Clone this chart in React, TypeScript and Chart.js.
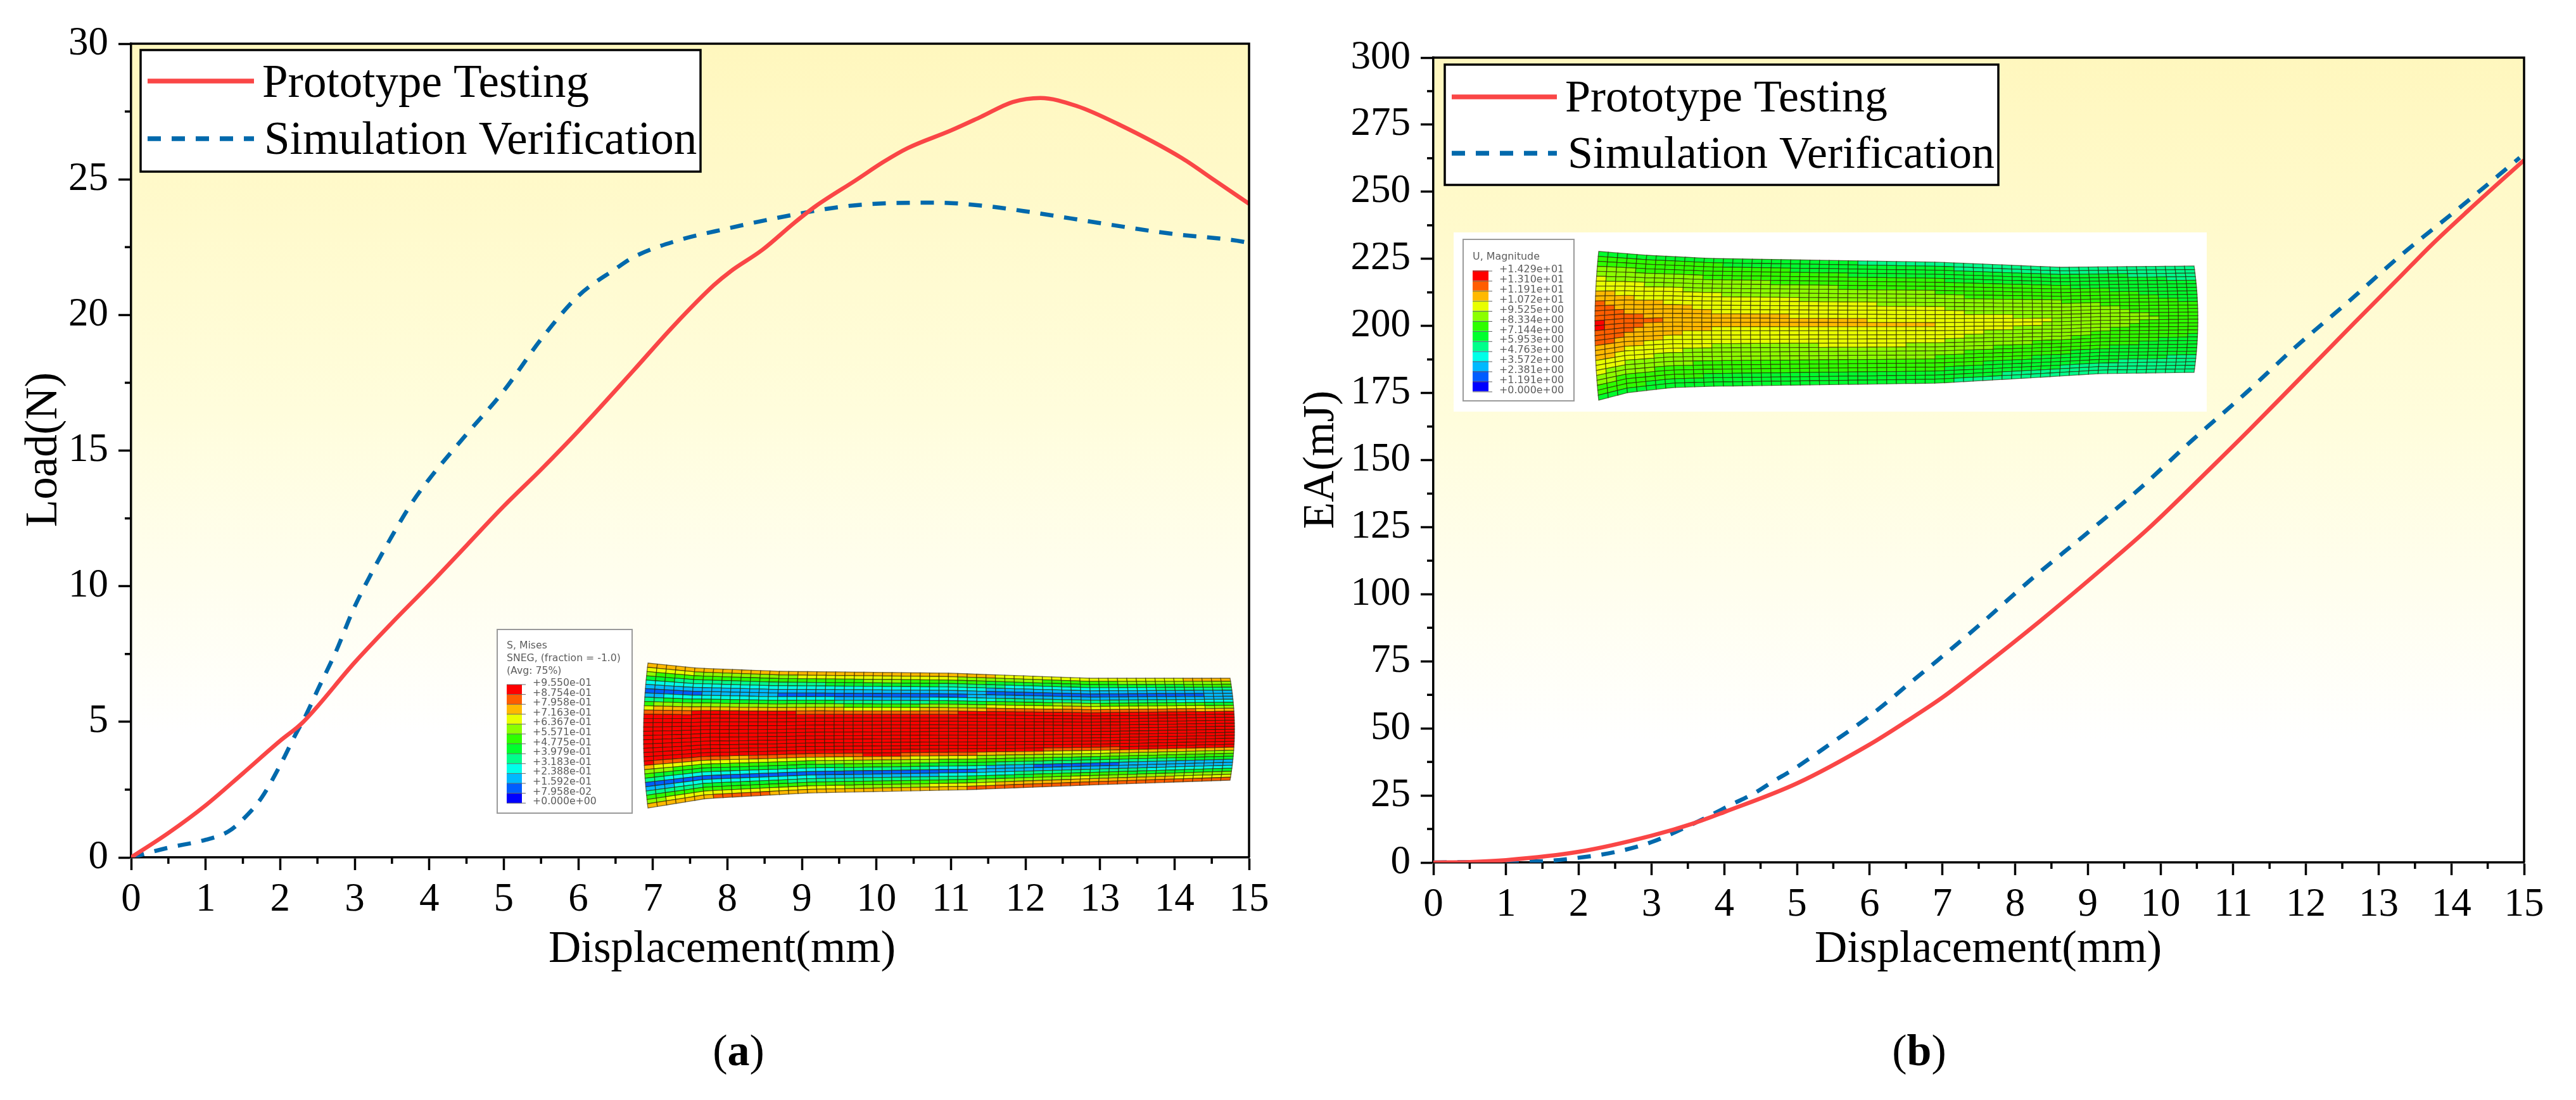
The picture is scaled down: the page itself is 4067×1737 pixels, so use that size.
import React, { useEffect, useRef } from "react";
import Chart from "chart.js/auto";

// displacement (mm) vs load (N)
const testLoadX = [0, 0.5, 1, 1.5, 2, 2.3, 3, 3.5, 4, 4.5, 5, 5.5, 6, 6.74, 7.28, 7.82, 8.04, 8.47, 8.9, 9.18, 9.72, 10.1, 10.42, 11.0, 11.4, 11.83, 12.2, 12.69, 13.24, 14.1, 14.54, 15];
const testLoadY = [0, 0.9, 1.92, 3.1, 4.3, 4.97, 7.19, 8.65, 10.05, 11.5, 12.95, 14.3, 15.72, 17.95, 19.6, 21.1, 21.6, 22.4, 23.4, 24.0, 24.96, 25.65, 26.15, 26.8, 27.3, 27.85, 28.0, 27.7, 27.04, 25.78, 24.96, 24.1];
const simLoadX = [0, 0.5, 1, 1.3, 1.5, 1.75, 2, 2.2, 2.35, 2.5, 2.75, 2.98, 3.2, 3.5, 3.75, 4, 4.5, 5, 5.5, 6, 6.5, 6.74, 7.28, 7.99, 8.9, 9.56, 10.15, 10.8, 11.45, 12.05, 12.97, 13.94, 14.92, 15];
const simLoadY = [0, 0.36, 0.65, 0.95, 1.4, 2.2, 3.4, 4.5, 5.27, 6.16, 7.6, 9.13, 10.35, 11.85, 13.0, 13.95, 15.6, 17.2, 19.1, 20.7, 21.7, 22.13, 22.7, 23.18, 23.7, 24.0, 24.12, 24.14, 24.02, 23.8, 23.4, 23.0, 22.7, 22.65];

// displacement (mm) vs EA (mJ)
const testEaX = [0, 0.5, 1, 2, 3, 3.6, 4, 5, 6, 6.5, 7, 7.5, 8.33, 9.16, 9.83, 10.72, 11.22, 11.83, 12.66, 13.28, 13.72, 14.22, 15];
const testEaY = [0, 0.2, 0.9, 4, 10, 14.8, 18.8, 29.5, 44, 52.5, 61.5, 71.8, 89.7, 108.6, 124.4, 147.8, 161.2, 178, 201, 217.9, 230, 242.7, 261.8];
const simEaX = [0, 1, 1.5, 2, 2.5, 3, 3.53, 3.82, 4.09, 4.4, 4.67, 4.95, 5.2, 5.48, 5.73, 6, 6.25, 6.5, 6.94, 7.5, 8.22, 9, 9.72, 10.44, 11.17, 11.83, 12.6, 13.33, 14.11, 14.94];
const simEaY = [0, 0.3, 0.5, 1.8, 3.9, 7.6, 13.9, 17.7, 21.5, 25.6, 30.2, 34.7, 39.3, 44.6, 49.3, 54.6, 60, 65.7, 75.5, 88.3, 105.5, 123, 139.5, 157.5, 174.9, 191.5, 209.4, 226.9, 244, 262.7];

const dispTicks = [0, 1, 2, 3, 4, 5, 6, 7, 8, 9, 10, 11, 12, 13, 14, 15];
const loadTicks = [0, 5, 10, 15, 20, 25, 30];
const eaTicks = [0, 25, 50, 75, 100, 125, 150, 175, 200, 225, 250, 275, 300];

const seriesNames = ["Prototype Testing", "Simulation Verification"];
const serif = "'Liberation Serif', 'Times New Roman', serif";
const inset = "'DejaVu Sans', sans-serif";
const RED = "#FA4646";
const BLUE = "#0069AC";
const DASH = [21, 17];

const contour = ["#FF0000", "#FF5D00", "#FFB900", "#E8FF00", "#8BFF00", "#2EFF00", "#00FF2E", "#00FF8B", "#00FFE8", "#00B9FF", "#005DFF", "#0000FF"];
const stressTitle = ["S, Mises", "SNEG, (fraction = -1.0)", "(Avg: 75%)"];
const stressScale = ["+9.550e-01", "+8.754e-01", "+7.958e-01", "+7.163e-01", "+6.367e-01", "+5.571e-01", "+4.775e-01", "+3.979e-01", "+3.183e-01", "+2.388e-01", "+1.592e-01", "+7.958e-02", "+0.000e+00"];
const dispTitle = ["U, Magnitude"];
const dispScale = ["+1.429e+01", "+1.310e+01", "+1.191e+01", "+1.072e+01", "+9.525e+00", "+8.334e+00", "+7.144e+00", "+5.953e+00", "+4.763e+00", "+3.572e+00", "+2.381e+00", "+1.191e+00", "+0.000e+00"];

// band index across the tube in (a): [position across, band]
const stressBands = [[0, 1.5], [0.03, 3], [0.07, 5], [0.12, 8], [0.18, 10], [0.22, 8], [0.26, 5], [0.29, 3], [0.32, 1], [0.35, 0], [0.67, 0], [0.7, 2], [0.73, 4], [0.78, 6], [0.83, 10], [0.87, 8], [0.92, 5], [0.97, 2], [1, 1]];

const lerp = (a: number, b: number, t: number) => a + (b - a) * t;

function along(xs: number[], ys: number[], x: number) {
    for (let i = 1; i < xs.length; i++) {
        if (x <= xs[i]) return lerp(ys[i - 1], ys[i], (x - xs[i - 1]) / (xs[i] - xs[i - 1]));
    }
    return ys[ys.length - 1];
}

const stressField = (u: number, v: number) => {
    const p = Math.min(1, Math.max(0, v + 0.012 * Math.sin(u * 11) + 0.03 * (u - 0.5)));
    return along(stressBands.map((b) => b[0]), stressBands.map((b) => b[1]), p);
};

const dispField = (u: number, v: number) => {
    const p = Math.abs(2 * v - 1 + 0.04 * Math.sin(u * 9));
    const centre = along([0, 0.05, 0.14, 0.2, 0.55, 0.62, 0.8, 1], [0, 1, 1.8, 2.2, 2.4, 3, 3.6, 5], u);
    const edge = along([0, 0.3, 0.7, 1], [5.8, 6.3, 7, 7.4], u);
    return lerp(centre, edge, Math.pow(p, 1.2));
};

const panels = [
    {
        offset: 0,
        width: 2040,
        area: { left: 207, right: 1972, top: 69, bottom: 1354 },
        yMax: 30,
        yTicks: loadTicks,
        yTitle: { text: "Load(N)", x: 89, y: 710, size: 71 },
        xTitle: { x: 1140, y: 1519 },
        legend: { box: [222, 79, 1106, 271], line: [233, 401], rows: [128, 219], textX: [414, 417], base: [153, 243], size: 73 },
        caption: { a: "a", x: 1166, y: 1682 },
        series: [
            { xs: testLoadX, ys: testLoadY },
            { xs: simLoadX, ys: simLoadY },
        ],
        picture: {
            sheet: null,
            box: [785, 994, 998, 1284],
            title: stressTitle,
            titleY: [1020, 1040, 1060],
            textX: 800,
            swatch: [800, 824, 1081],
            labelX: 841,
            labelY: 1079,
            scale: stressScale,
            step: 15.6,
            font: 15.7,
            tube: { x0: 1023, x1: 1942, bow: 7, topX: [1023, 1100, 1230, 1500, 1720, 1942], top: [1047, 1055, 1060, 1063, 1071, 1071], botX: [1023, 1115, 1280, 1529, 1736, 1942], bot: [1276, 1261, 1252, 1247, 1239, 1232], cols: 62, rows: 34, field: stressField },
        },
    },
    {
        offset: 2040,
        width: 2027,
        area: { left: 2263, right: 3985, top: 91, bottom: 1362 },
        yMax: 300,
        yTicks: eaTicks,
        yTitle: { text: "EA(mJ)", x: 2105, y: 726, size: 69 },
        xTitle: { x: 3139, y: 1519 },
        legend: { box: [2281, 102, 3155, 292], line: [2292, 2458], rows: [153, 242], textX: [2471, 2475], base: [176, 265], size: 72 },
        caption: { a: "b", x: 3030, y: 1682 },
        series: [
            { xs: testEaX, ys: testEaY },
            { xs: simEaX, ys: simEaY },
        ],
        picture: {
            sheet: [2295, 367, 3484, 650],
            box: [2310, 378, 2485, 633],
            title: dispTitle,
            titleY: [406],
            textX: 2325,
            swatch: [2325, 2350, 427],
            labelX: 2367,
            labelY: 426,
            scale: dispScale,
            step: 15.9,
            font: 15.9,
            tube: { x0: 2524, x1: 3464, bow: 6, topX: [2524, 2600, 2700, 3060, 3251, 3464], top: [397, 403, 408, 414, 422, 420], botX: [2524, 2570, 2640, 2700, 3060, 3200, 3315, 3464], bot: [632, 620, 612, 610, 605, 597, 590, 588], cols: 62, rows: 30, field: dispField },
        },
    },
];

function drawTube(ctx: CanvasRenderingContext2D, t: any) {
    const pt = (i: number, j: number) => {
        const u = i / t.cols;
        const v = j / t.rows;
        const base = lerp(t.x0, t.x1, u);
        const top = along(t.topX, t.top, base);
        const bot = along(t.botX, t.bot, base);
        const bulge = 1 - (2 * v - 1) * (2 * v - 1);
        return [base + (2 * u - 1) * t.bow * bulge, lerp(top, bot, v)];
    };
    const cell = (i: number, j: number) => {
        const a = pt(i, j);
        const b = pt(i + 1, j);
        const c = pt(i + 1, j + 1);
        const d = pt(i, j + 1);
        ctx.beginPath();
        ctx.moveTo(a[0], a[1]);
        ctx.lineTo(b[0], b[1]);
        ctx.lineTo(c[0], c[1]);
        ctx.lineTo(d[0], d[1]);
        ctx.closePath();
    };
    for (let i = 0; i < t.cols; i++) {
        for (let j = 0; j < t.rows; j++) {
            const band = Math.round(t.field((i + 0.5) / t.cols, (j + 0.5) / t.rows));
            ctx.fillStyle = contour[Math.min(11, Math.max(0, band))];
            cell(i, j);
            ctx.fill();
            ctx.strokeStyle = "rgba(40,30,0,0.62)";
            ctx.lineWidth = 1.3;
            ctx.stroke();
        }
    }
}

function drawPicture(ctx: CanvasRenderingContext2D, p: any) {
    if (p.sheet) {
        ctx.fillStyle = "#fff";
        ctx.fillRect(p.sheet[0], p.sheet[1], p.sheet[2] - p.sheet[0], p.sheet[3] - p.sheet[1]);
    }
    ctx.fillStyle = "#fff";
    ctx.strokeStyle = "#9a9a9a";
    ctx.lineWidth = 2;
    ctx.fillRect(p.box[0], p.box[1], p.box[2] - p.box[0], p.box[3] - p.box[1]);
    ctx.strokeRect(p.box[0], p.box[1], p.box[2] - p.box[0], p.box[3] - p.box[1]);

    ctx.font = `${p.font}px ${inset}`;
    ctx.textAlign = "left";
    ctx.textBaseline = "middle";
    ctx.fillStyle = "#5c5c5c";
    p.title.forEach((s: string, i: number) => ctx.fillText(s, p.textX, p.titleY[i]));
    contour.forEach((c, i) => {
        ctx.fillStyle = c;
        ctx.fillRect(p.swatch[0], p.swatch[2] + i * p.step, p.swatch[1] - p.swatch[0], p.step);
    });
    ctx.strokeStyle = "#666";
    ctx.lineWidth = 1;
    p.scale.forEach((s: string, i: number) => {
        const y = p.labelY + i * p.step + 2;
        ctx.beginPath();
        ctx.moveTo(p.swatch[0], y);
        ctx.lineTo(p.swatch[1] + 6, y);
        ctx.stroke();
        ctx.fillStyle = "#5c5c5c";
        ctx.fillText(s, p.labelX, p.labelY + i * p.step);
    });
    drawTube(ctx, p.tube);
}

function drawLegend(ctx: CanvasRenderingContext2D, l: any) {
    const [x0, y0, x1, y1] = l.box;
    ctx.fillStyle = "#fff";
    ctx.fillRect(x0, y0, x1 - x0, y1 - y0);
    ctx.strokeStyle = "#000";
    ctx.lineWidth = 3.5;
    ctx.strokeRect(x0, y0, x1 - x0, y1 - y0);
    seriesNames.forEach((name, i) => {
        ctx.beginPath();
        ctx.strokeStyle = i === 0 ? RED : BLUE;
        ctx.lineWidth = 7.5;
        ctx.setLineDash(i === 0 ? [] : DASH);
        ctx.moveTo(l.line[0], l.rows[i]);
        ctx.lineTo(l.line[1], l.rows[i]);
        ctx.stroke();
        ctx.setLineDash([]);
        ctx.font = `${l.size}px ${serif}`;
        ctx.fillStyle = "#000";
        ctx.textAlign = "left";
        ctx.textBaseline = "alphabetic";
        ctx.fillText(name, l.textX[i], l.base[i]);
    });
}

function figurePlugin(cfg: any) {
    return {
        id: "figure",
        beforeDraw(chart: any) {
            const { ctx, chartArea: a } = chart;
            const g = ctx.createLinearGradient(0, a.top, 0, a.bottom);
            g.addColorStop(0, "#FFF7BE");
            g.addColorStop(0.45, "#FFFDDC");
            g.addColorStop(0.85, "#FFFFFF");
            g.addColorStop(1, "#FFFFFF");
            ctx.save();
            ctx.fillStyle = g;
            ctx.fillRect(a.left, a.top, a.right - a.left, a.bottom - a.top);
            ctx.restore();
        },
        beforeDatasetsDraw(chart: any) {
            const { ctx } = chart;
            ctx.save();
            ctx.translate(-cfg.offset, 0);
            drawPicture(ctx, cfg.picture);
            ctx.restore();
        },
        afterDatasetsDraw(chart: any) {
            const { ctx, chartArea: a, scales } = chart;
            ctx.save();
            // frame, top and right side
            ctx.strokeStyle = "#000";
            ctx.lineWidth = 3.5;
            ctx.beginPath();
            ctx.moveTo(a.left, a.top);
            ctx.lineTo(a.right, a.top);
            ctx.lineTo(a.right, a.bottom);
            ctx.stroke();
            // minor ticks half way between the labelled ones
            ctx.lineWidth = 3.5;
            for (let i = 1; i < dispTicks.length; i++) {
                const x = scales.x.getPixelForValue((dispTicks[i - 1] + dispTicks[i]) / 2);
                ctx.beginPath();
                ctx.moveTo(x, a.bottom);
                ctx.lineTo(x, a.bottom + 10);
                ctx.stroke();
            }
            for (let i = 1; i < cfg.yTicks.length; i++) {
                const y = scales.y.getPixelForValue((cfg.yTicks[i - 1] + cfg.yTicks[i]) / 2);
                ctx.beginPath();
                ctx.moveTo(a.left, y);
                ctx.lineTo(a.left - 10, y);
                ctx.stroke();
            }
            ctx.translate(-cfg.offset, 0);
            drawLegend(ctx, cfg.legend);

            // axis titles sit off centre in the figure, so they are placed by hand
            ctx.fillStyle = "#000";
            ctx.textAlign = "center";
            ctx.textBaseline = "alphabetic";
            ctx.font = `71px ${serif}`;
            ctx.fillText("Displacement(mm)", cfg.xTitle.x, cfg.xTitle.y);
            ctx.save();
            ctx.translate(cfg.yTitle.x, cfg.yTitle.y);
            ctx.rotate(-Math.PI / 2);
            ctx.font = `${cfg.yTitle.size}px ${serif}`;
            ctx.fillText(cfg.yTitle.text, 0, 0);
            ctx.restore();

            // caption: bold letter between plain brackets
            ctx.textAlign = "left";
            ctx.font = `70px ${serif}`;
            const open = ctx.measureText("(").width;
            ctx.font = `bold 70px ${serif}`;
            const mid = ctx.measureText(cfg.caption.a).width;
            const x = cfg.caption.x - (open * 2 + mid) / 2;
            ctx.font = `70px ${serif}`;
            ctx.fillText("(", x, cfg.caption.y);
            ctx.fillText(")", x + open + mid, cfg.caption.y);
            ctx.font = `bold 70px ${serif}`;
            ctx.fillText(cfg.caption.a, x + open, cfg.caption.y);
            ctx.restore();
        },
    };
}

const Panel: React.FC<{ cfg: any }> = ({ cfg }) => {
    const chartRef = useRef<HTMLCanvasElement | null>(null);

    useEffect(() => {
        if (!chartRef.current) return;
        const { area, offset } = cfg;

        const axis = {
            border: { display: true, color: "#000", width: 3.5 },
            grid: { display: true, drawOnChartArea: false, drawTicks: true, tickLength: 20, tickWidth: 3.5, tickColor: "#000" },
        };

        const chart = new Chart(chartRef.current, {
            type: "line",
            data: {
                datasets: cfg.series.map((s: any, i: number) => ({
                    label: seriesNames[i],
                    data: s.xs.map((x: number, k: number) => ({ x, y: s.ys[k] })),
                    borderColor: i === 0 ? RED : BLUE,
                    borderWidth: 6.5,
                    borderDash: i === 0 ? [] : DASH,
                    pointRadius: 0,
                    fill: false,
                    cubicInterpolationMode: "monotone",
                })),
            },
            options: {
                animation: false,
                responsive: false,
                devicePixelRatio: 1,
                layout: {
                    autoPadding: false,
                    padding: { left: 0, top: area.top, right: cfg.width - (area.right - offset), bottom: 0 },
                },
                plugins: { legend: { display: false }, title: { display: false }, tooltip: { enabled: false } },
                scales: {
                    x: {
                        ...axis,
                        type: "linear",
                        min: 0,
                        max: 15,
                        afterBuildTicks: (s: any) => {
                            s.ticks = dispTicks.map((value) => ({ value }));
                        },
                        afterFit: (s: any) => {
                            s.height = 1737 - area.bottom;
                        },
                        ticks: {
                            autoSkip: false,
                            maxRotation: 0,
                            color: "#000",
                            padding: 10,
                            font: { family: serif, size: 63 },
                        },
                    },
                    y: {
                        ...axis,
                        type: "linear",
                        min: 0,
                        max: cfg.yMax,
                        afterBuildTicks: (s: any) => {
                            s.ticks = cfg.yTicks.map((value: number) => ({ value }));
                        },
                        afterFit: (s: any) => {
                            s.width = area.left - offset;
                        },
                        ticks: {
                            autoSkip: false,
                            color: "#000",
                            padding: 16,
                            font: { family: serif, size: 63 },
                        },
                    },
                },
            },
            plugins: [figurePlugin(cfg)],
        } as any);

        return () => {
            chart.destroy();
        };
    }, [cfg]);

    return (
        <canvas
            ref={chartRef}
            width={cfg.width}
            height={1737}
            style={{ position: "absolute", left: cfg.offset, top: 0, width: cfg.width, height: 1737 }}
        ></canvas>
    );
};

const App: React.FC = () => (
    <div style={{ position: "absolute", left: 0, top: 0, width: 4067, height: 1737, background: "#fff", overflow: "hidden" }}>
        {panels.map((cfg, i) => (
            <Panel key={i} cfg={cfg} />
        ))}
    </div>
);

export default App;
